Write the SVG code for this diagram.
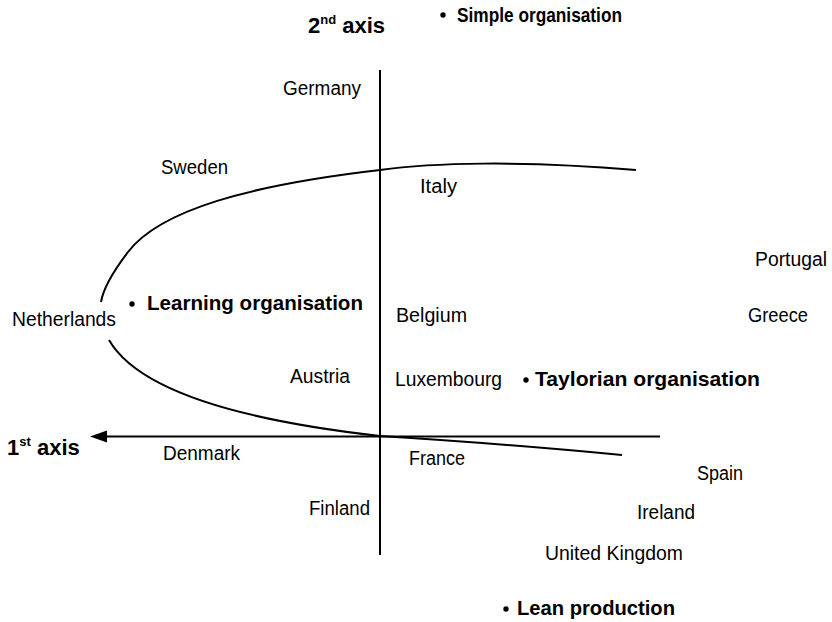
<svg xmlns="http://www.w3.org/2000/svg" width="832" height="622" viewBox="0 0 832 622">
<style>
.bg{fill:#fff}
.ln{fill:none;stroke:#000;stroke-width:2}
.c{font-family:"Liberation Sans",Arial,sans-serif;font-size:19.5px;fill:#000}
.b{font-family:"Liberation Sans",Arial,sans-serif;font-size:20.5px;font-weight:bold;fill:#000}
.ax{font-family:"Liberation Sans",Arial,sans-serif;font-size:22px;font-weight:bold;fill:#000}
.dot{fill:#000}
</style>
<rect class="bg" x="0" y="0" width="832" height="622"/>
<g id="connectors">
  <line class="ln" x1="380" y1="70" x2="380" y2="555"/>
  <line class="ln" x1="660" y1="436.5" x2="104" y2="436.5"/>
  <polygon points="90,436.5 107,430.5 107,442.5" fill="#000"/>
  <path class="ln" d="M636,170 C520,160 430,163 380,170 C250,185 160,210 128,252 C112,273 103,290 101,302"/>
  <path class="ln" d="M109,340 C135,385 220,418 380,436 C460,441 560,449 622,455"/>
</g>
<g id="axis-titles">
  <g id="axis2"><text class="ax" x="308" y="33">2<tspan font-size="13" dy="-9">nd</tspan><tspan dy="9"> axis</tspan></text></g>
  <g id="axis1"><text class="ax" x="7" y="455">1<tspan font-size="13" dy="-9">st</tspan><tspan dy="9"> axis</tspan></text></g>
</g>
<g id="types">
  <g id="simple"><circle class="dot" cx="443" cy="15" r="2.7"/><text class="b" x="457" y="22" textLength="165" lengthAdjust="spacingAndGlyphs">Simple organisation</text></g>
  <g id="learning"><circle class="dot" cx="132" cy="304" r="2.7"/><text class="b" x="147" y="310" textLength="216" lengthAdjust="spacingAndGlyphs">Learning organisation</text></g>
  <g id="taylorian"><circle class="dot" cx="526" cy="380" r="2.7"/><text class="b" x="535" y="386" textLength="225" lengthAdjust="spacingAndGlyphs">Taylorian organisation</text></g>
  <g id="lean"><circle class="dot" cx="506" cy="609" r="2.7"/><text class="b" x="517" y="615" textLength="158" lengthAdjust="spacingAndGlyphs">Lean production</text></g>
</g>
<g id="countries">
  <g id="germany"><text class="c" x="283" y="95" textLength="78" lengthAdjust="spacingAndGlyphs">Germany</text></g>
  <g id="sweden"><text class="c" x="161" y="174" textLength="67" lengthAdjust="spacingAndGlyphs">Sweden</text></g>
  <g id="italy"><text class="c" x="420" y="193" textLength="37" lengthAdjust="spacingAndGlyphs">Italy</text></g>
  <g id="portugal"><text class="c" x="755" y="266" textLength="72" lengthAdjust="spacingAndGlyphs">Portugal</text></g>
  <g id="netherlands"><text class="c" x="12" y="326" textLength="104" lengthAdjust="spacingAndGlyphs">Netherlands</text></g>
  <g id="belgium"><text class="c" x="396" y="322" textLength="71" lengthAdjust="spacingAndGlyphs">Belgium</text></g>
  <g id="greece"><text class="c" x="748" y="322" textLength="60" lengthAdjust="spacingAndGlyphs">Greece</text></g>
  <g id="austria"><text class="c" x="290" y="383" textLength="60" lengthAdjust="spacingAndGlyphs">Austria</text></g>
  <g id="luxembourg"><text class="c" x="395" y="386" textLength="107" lengthAdjust="spacingAndGlyphs">Luxembourg</text></g>
  <g id="denmark"><text class="c" x="163" y="460" textLength="77" lengthAdjust="spacingAndGlyphs">Denmark</text></g>
  <g id="france"><text class="c" x="409" y="465" textLength="56" lengthAdjust="spacingAndGlyphs">France</text></g>
  <g id="spain"><text class="c" x="697" y="480" textLength="46" lengthAdjust="spacingAndGlyphs">Spain</text></g>
  <g id="finland"><text class="c" x="309" y="515" textLength="61" lengthAdjust="spacingAndGlyphs">Finland</text></g>
  <g id="ireland"><text class="c" x="637" y="519" textLength="58" lengthAdjust="spacingAndGlyphs">Ireland</text></g>
  <g id="uk"><text class="c" x="545" y="560" textLength="138" lengthAdjust="spacingAndGlyphs">United Kingdom</text></g>
</g>
</svg>
